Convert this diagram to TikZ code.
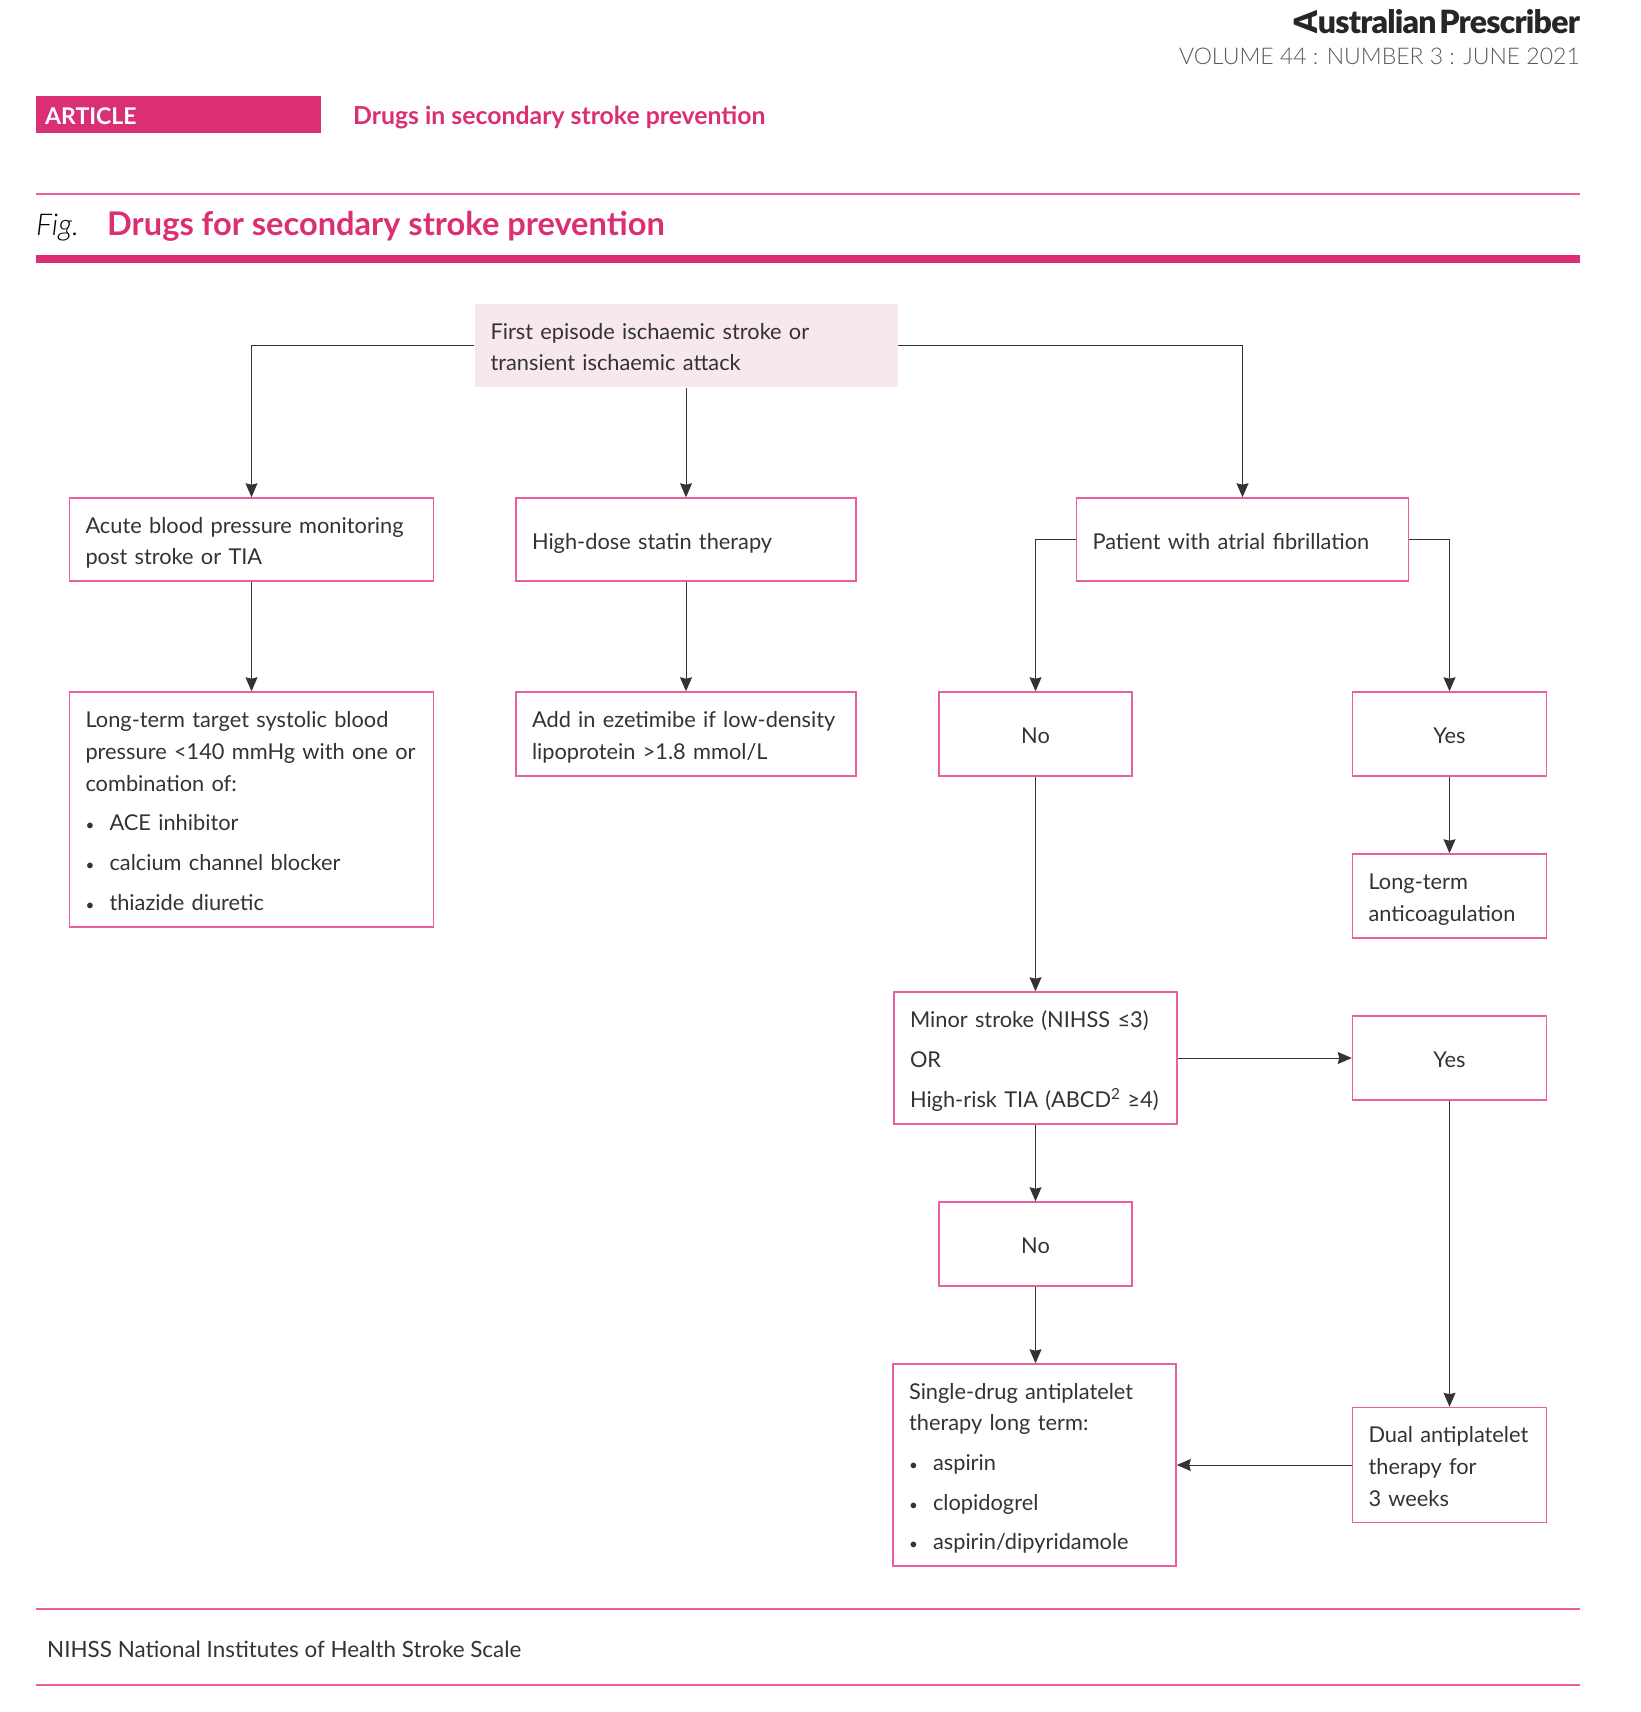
\documentclass[tikz,border=0pt]{standalone}
\usepackage{fontspec}
\usepackage{graphicx}
\usetikzlibrary{arrows.meta}
\setmainfont{Lato}
\newfontfamily\lightfont{Lato Light}
\newfontfamily\logofont[LetterSpace=-2.5,WordSpace=0.4]{Lato Black}
\definecolor{barpink}{HTML}{DB2F74}
\definecolor{linepink}{HTML}{E8609F}
\definecolor{rootfill}{HTML}{F7E8EB}
\definecolor{inkdark}{HTML}{333333}
\definecolor{inkgray}{HTML}{5A5A5A}
\newcommand{\bul}[1]{\makebox[24pt][l]{\scalebox{0.7}{\textbullet}}#1}

\begin{document}
\begin{tikzpicture}[
      x=1pt, y=-1pt,
      cell/.style 2 args={draw=linepink, line width=1.5pt, font=\fontsize{21.8}{31.7}\selectfont,
                   text=inkdark, inner xsep=16pt, inner ysep=0pt, align=left,
                   minimum width=#1pt, minimum height=#2pt, text width=#1pt-32pt,
                   execute at begin node={\rule{0pt}{25pt}},
                   execute at end node={\rule[-6pt]{0pt}{6pt}}},
      tag/.style={inner sep=0pt, anchor=base west, text=inkdark},
      flow/.style={draw=inkdark, line width=1pt, -{Stealth[length=14pt,width=12pt,inset=1.5pt]}}
    ]
      \useasboundingbox (0,0) rectangle (1640,1712);

      % page head
      \node[tag,anchor=base east,font=\fontsize{32}{34}\logofont,text=black!85]
        (logo) at (1580,34) {\rotatebox[origin=c]{90}{A}ustralian Prescriber};
      \node[tag,anchor=base east,font=\fontsize{23}{26}\lightfont,text=inkgray]
        (issue) at (1580,65) {VOLUME 44 : NUMBER 3 : JUNE 2021};
      \fill[barpink] (36,96) rectangle (321,133);
      \node[tag,font=\fontsize{23}{26}\bfseries\selectfont,text=white] (article) at (45,125) {ARTICLE};
      \node[tag,font=\fontsize{24.8}{26}\bfseries\selectfont,text=barpink] (running) at (353,125) {Drugs in secondary stroke prevention};

      % figure head and rules
      \draw[linepink,line width=1.5pt] (36,194) -- (1580,194);
      \node[tag,font=\fontsize{30}{30}\lightfont\itshape,text=black] (figlabel) at (36,236) {Fig.};
      \node[tag,font=\fontsize{32.6}{34}\bfseries\selectfont,text=barpink] (figtitle) at (107,236) {Drugs for secondary stroke prevention};
      \fill[barpink] (36,255) rectangle (1580,263);
      \draw[linepink,line width=1.5pt] (36,1609) -- (1580,1609);
      \draw[linepink,line width=1.5pt] (36,1685) -- (1580,1685);
      \node[tag,font=\fontsize{22.4}{26}\selectfont] (footnote) at (47,1657) {NIHSS National Institutes of Health Stroke Scale};

      % boxes
      \node[cell={423}{83},draw=none,fill=rootfill] (root) at (686,345.5)
        {First episode ischaemic stroke or\\transient ischaemic attack};
      \node[cell={364}{83}] (bpacute) at (251.5,539.5)
        {Acute blood pressure monitoring\\post stroke or TIA};
      \node[cell={340}{83}] (statin) at (686,539.5) {High-dose statin therapy};
      \node[cell={332}{83}] (atrial) at (1242.5,539.5) {Patient with atrial fibrillation};
      \node[cell={364}{235}] (bptarget) at (251.5,809.5)
        {Long-term target systolic blood\\pressure <140 mmHg with one or\\combination of:\\[8pt]
         \bul{ACE inhibitor}\\[8pt]\bul{calcium channel blocker}\\[8pt]\bul{thiazide diuretic}};
      \node[cell={340}{84}] (ezetimibe) at (686,734)
        {Add in ezetimibe if low-density\\lipoprotein >1.8 mmol/L};
      \node[cell={193}{84},align=center] (nofib) at (1035.5,734) {No};
      \node[cell={194}{84},align=center] (yesfib) at (1449.5,734) {Yes};
      \node[cell={194}{84}] (anticoag) at (1449.5,896) {Long-term\\anticoagulation};
      \node[cell={283}{132}] (minor) at (1035.5,1058)
        {Minor stroke (NIHSS ≤3)\\[8pt]OR\\[8pt]High-risk TIA (ABCD\textsuperscript{2} ≥4)};
      \node[cell={194}{84},align=center] (yesminor) at (1449.5,1058) {Yes};
      \node[cell={193}{84},align=center] (nominor) at (1035.5,1244) {No};
      \node[cell={283}{202}] (single) at (1034.5,1465)
        {Single-drug antiplatelet\\therapy long term:\\[8pt]
         \bul{aspirin}\\[8pt]\bul{clopidogrel}\\[8pt]\bul{aspirin/dipyridamole}};
      \node[cell={194}{115}] (dual) at (1449.5,1465)
        {Dual antiplatelet\\therapy for\\3 weeks};

      % connectors
      \draw[flow] (root.west) -| (bpacute.north);
      \draw[flow] (root.south) -- (statin.north);
      \draw[flow] (root.east) -| (atrial.north);
      \draw[flow] (bpacute.south) -- (bptarget.north);
      \draw[flow] (statin.south) -- (ezetimibe.north);
      \draw[flow] (atrial.west) -| (nofib.north);
      \draw[flow] (atrial.east) -| (yesfib.north);
      \draw[flow] (yesfib.south) -- (anticoag.north);
      \draw[flow] (nofib.south) -- (minor.north);
      \draw[flow] (minor.east) -- (yesminor.west);
      \draw[flow] (minor.south) -- (nominor.north);
      \draw[flow] (nominor.south) -- (nominor.south |- single.north);
      \draw[flow] (yesminor.south) -- (dual.north);
      \draw[flow] (dual.west) -- (single.east);
    \end{tikzpicture}
\end{document}
